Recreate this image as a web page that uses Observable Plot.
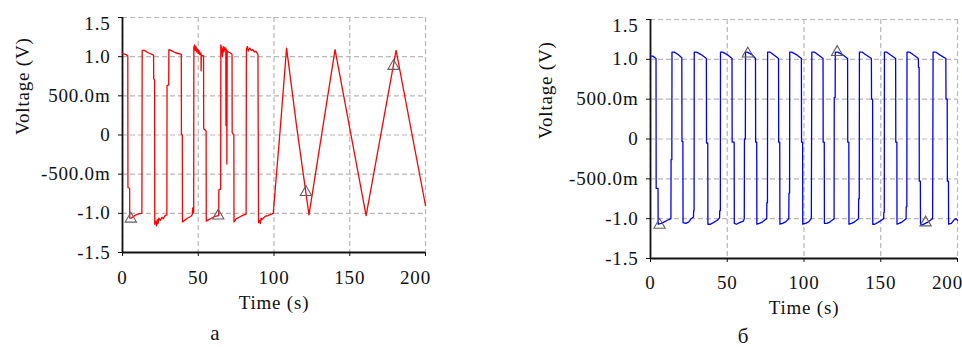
<!DOCTYPE html>
<html>
<head>
<meta charset="utf-8">
<script src="https://cdn.jsdelivr.net/npm/d3@7"></script>
<script src="https://cdn.jsdelivr.net/npm/@observablehq/plot@0.6"></script>
<style>
  html, body { margin: 0; padding: 0; background: #fff; }
  #wrap { position: relative; width: 962px; height: 347px; overflow: hidden; background: #fff; }
  .panel { position: absolute; top: 0; }
  #wrap svg, #wrap svg text { font-family: "Times New Roman", "Liberation Serif", Tinos, "DejaVu Serif", serif !important; letter-spacing: 0.8px; }
</style>
</head>
<body>
<div id="wrap">
  <div class="panel" id="pa" style="left:0px;width:440px;height:347px"></div>
  <div class="panel" id="pb" style="left:500px;width:462px;height:347px"></div>
</div>
<script>
// ---------- data ----------
const xTicks = [0, 50, 100, 150, 200];
const xTickLabels = ["0", "50", "100", "150", "200"];
const yTicks = [-1.5, -1, -0.5, 0, 0.5, 1, 1.5];
const yTickLabels = ["-1.5", "-1.0", "-500.0m", "0", "500.0m", "1.0", "1.5"];
const xLabel = "Time (s)";
const yLabel = "Voltage (V)";
const panelLabels = ["a", "б"];

// panel a (red)
const timeA = [
  0, 2.0, 3.5, 3.6, 4.7, 4.8, 6, 8, 10, 12.8,
  13.0, 14.5, 17, 20.5,
  20.6, 21.2, 21.3, 22, 22.5, 23, 23.5, 24, 25, 26, 27, 28, 29.3,
  29.4, 30.5, 30.6, 32, 35, 38.8,
  38.9, 39.5, 39.6, 41, 43, 45, 46, 46.4, 46.6, 47.0,
  47.1, 47.6, 48, 48.5, 49, 49.5, 50, 50.5, 51, 51.8, 51.9, 52.0, 53.5,
  53.6, 55.2, 55.3, 57, 59, 61, 63.5,
  63.6, 64.8, 64.9, 65.5, 66, 66.5, 67, 67.5, 68.2, 68.3, 68.5, 68.8, 68.9, 69.1, 70, 71, 72.3,
  72.4, 73.5, 73.6, 75, 77, 79, 81.6,
  81.8, 82.5, 83, 84, 85, 86, 87, 88, 89.4,
  89.5, 89.8, 90.5, 91, 91.5, 92, 94, 96, 99.5,
  104, 108.3, 115, 123.1, 140.3, 160.8, 180.6, 200
];
const voltA = [
  1.04, 1.03, 1.01, -0.67, -0.68, -1.06, -1.06, -1.03, -1.01, -1.0,
  1.08, 1.08, 1.05, 1.02,
  0.72, 0.70, -1.14, -1.1, -1.16, -1.08, -1.13, -1.06, -1.09, -1.05, -1.07, -1.03, -1.02,
  0.63, 0.64, 1.09, 1.08, 1.05, 1.03,
  0.01, 0.0, -1.11, -1.09, -1.06, -1.04, -1.02, -0.93, -1.0, -0.98,
  1.12, 1.15, 1.08, 1.13, 1.06, 1.1, 1.04, 1.08, 1.03, 1.05, 0.82, 1.02, 1.01,
  0.08, 0.05, -1.1, -1.08, -1.06, -1.04, -1.03,
  -0.7, -0.69, 1.15, 1.1, 1.0, 1.13, 1.06, 1.12, 1.08, 0.12, 1.1, 1.08, -0.37, 1.07, 1.06, 1.05, 1.03,
  0.03, 0.0, -1.11, -1.07, -1.05, -1.03, -1.01,
  1.1, 1.13, 1.07, 1.11, 1.08, 1.09, 1.06, 1.07, 1.03,
  0.5, -1.12, -1.09, -1.13, -1.06, -1.08, -1.04, -1.03, -1.0,
  0.05, 1.11, 0.1, -1.02, 1.09, -1.03, 1.08, -0.9
];
const markTimeA = [5.5, 63.2, 121.1, 178.9];
const markVoltA = [-1.07, -1.03, -0.73, 0.88];

// panel б (blue)
const timeB = [
  0, 1.5, 3.6,
  3.7, 4.9, 5.0, 7, 9, 11, 13.3,
  13.4, 13.9, 14.0, 15.5, 18, 20.4,
  20.5, 21.1, 21.2, 23, 25, 26.5, 28.0,
  28.1, 28.4, 28.5, 30, 33, 36.4,
  36.5, 37.3, 37.4, 39, 41, 43.5, 45.0,
  45.1, 45.5, 45.6, 47, 50, 53.1,
  53.2, 54.5, 54.6, 56, 58, 60.5, 61.1,
  61.2, 61.8, 61.9, 63, 66, 68.4,
  68.5, 69.2, 69.3, 71, 73, 75.7,
  75.8, 76.2, 76.3, 78, 80, 83.4,
  83.5, 84.2, 84.3, 86, 88, 90.1,
  90.2, 90.6, 90.7, 92, 95, 98.3,
  98.4, 99.1, 99.2, 101, 103, 104.7,
  104.8, 105.1, 107, 109, 112.4,
  112.5, 113.2, 113.3, 115, 117, 119.6,
  119.7, 120.3, 120.4, 122, 125, 128.4,
  128.5, 129.2, 129.3, 131, 133, 135.5,
  135.6, 136.0, 136.1, 138, 140, 143.9,
  144.0, 144.7, 144.8, 146, 148, 151.9,
  152.0, 152.3, 152.4, 154, 156, 159.7,
  159.8, 160.5, 160.6, 162, 164, 166.5,
  166.6, 167.0, 167.1, 169, 171, 174.5,
  174.6, 175.0, 175.1, 175.8, 175.9, 177, 179, 181, 183.7,
  183.8, 184.1, 186, 189, 192.4,
  192.5, 193.3, 193.4, 194.1, 194.2, 196, 197.5, 199, 200
];
const voltB = [
  1.04, 1.04, 1.01,
  -0.62, -0.62, -1.07, -1.06, -1.04, -1.02, -1.0,
  -0.26, -0.26, 1.09, 1.09, 1.06, 1.02,
  -0.03, -0.03, -1.05, -1.06, -1.04, -1.0, -0.98,
  -0.9, -0.9, 1.09, 1.09, 1.06, 1.01,
  -0.05, -0.05, -1.07, -1.07, -1.05, -1.02, -0.99,
  -0.9, -0.9, 1.09, 1.09, 1.06, 1.01,
  -0.04, -0.04, -1.06, -1.07, -1.05, -1.03, -1.0,
  0.0, 0.0, 1.09, 1.09, 1.06, 1.01,
  -0.04, -0.04, -1.07, -1.06, -1.04, -1.0,
  -0.8, -0.8, 1.09, 1.09, 1.06, 1.01,
  -0.04, -0.04, -1.07, -1.06, -1.04, -1.0,
  -0.68, -0.68, 1.09, 1.09, 1.06, 1.01,
  -0.04, -0.04, -1.07, -1.06, -1.04, -1.0,
  -0.95, 1.09, 1.09, 1.06, 1.01,
  -0.04, -0.04, -1.06, -1.06, -1.04, -1.0,
  0.52, 0.52, 1.09, 1.09, 1.06, 1.01,
  -0.04, -0.04, -1.07, -1.06, -1.04, -1.0,
  -0.75, -0.75, 1.09, 1.09, 1.06, 1.01,
  0.5, 0.5, -1.07, -1.07, -1.05, -1.0,
  -0.92, -0.92, 1.09, 1.09, 1.06, 1.01,
  -0.04, -0.04, -1.07, -1.06, -1.04, -1.0,
  -0.85, -0.85, 1.09, 1.09, 1.06, 1.01,
  0.9, 0.9, -0.53, -0.53, -1.07, -1.08, -1.06, -1.04, -1.0,
  -0.95, 1.09, 1.09, 1.05, 1.01,
  0.5, 0.5, -0.53, -0.53, -1.07, -1.06, -1.02, -1.0, -1.02
];
const markTimeB = [5.9, 63.4, 121.6, 179.2];
const markVoltB = [-1.08, 1.07, 1.09, -1.05];

// ---------- drawing ----------
const FONT = "'Times New Roman', 'Liberation Serif', Tinos, 'DejaVu Serif', serif";
const yFmt = d => yTickLabels[yTicks.indexOf(d)];
const xFmt = d => xTickLabels[xTicks.indexOf(d)];

function panel({width, height, mL, mR, mT, mB, time, volt, mTime, mVolt, color, xPad, yLabDx, xLabDy}) {
  const pts = time.map((t, i) => ({t, v: volt[i]}));
  const marks = mTime.map((t, i) => ({t, v: mVolt[i]}));
  const yMain = yTicks.filter(d => d !== 1.5);
  const xMain = xTicks.filter(d => d !== 200);
  const txt = {fontSize: 19, fontFamily: FONT};
  return Plot.plot({
    width, height,
    marginLeft: mL, marginRight: mR, marginTop: mT, marginBottom: mB,
    style: {fontFamily: FONT, fontSize: "19px", color: "#111", background: "#fff", overflow: "visible"},
    x: {domain: [0, 200]},
    y: {domain: [-1.5, 1.5]},
    marks: [
      Plot.gridX(xTicks, {stroke: "#b8b8b8", strokeOpacity: 1, strokeWidth: 1.2, strokeDasharray: "5,3"}),
      Plot.gridY(yTicks, {stroke: "#b8b8b8", strokeOpacity: 1, strokeWidth: 1.2, strokeDasharray: "5,3"}),
      Plot.axisY(yMain, {tickSize: 4, tickPadding: 8, tickFormat: yFmt, label: null, ...txt}),
      Plot.axisY([1.5], {tickSize: 4, tickPadding: 8, tickFormat: () => "", label: null}),
      Plot.axisY([1.5], {tickSize: 0, tickPadding: 12, tickFormat: yFmt, label: null, dy: 6, ...txt}),
      Plot.axisX(xMain, {tickSize: 4, tickPadding: xPad, tickFormat: xFmt, label: null, ...txt}),
      Plot.axisX([200], {tickSize: 4, tickPadding: xPad, tickFormat: () => "", label: null}),
      Plot.axisX([200], {tickSize: 0, tickPadding: xPad + 4, tickFormat: xFmt, label: null, dx: -10, ...txt}),
      Plot.ruleX([0], {stroke: "#111", strokeWidth: 1.8}),
      Plot.ruleY([-1.5], {stroke: "#111", strokeWidth: 1.8}),
      Plot.line(pts, {x: "t", y: "v", stroke: color, strokeWidth: 1.3, curve: "linear"}),
      Plot.dot(marks, {x: "t", y: "v", symbol: "triangle", r: 4.2, stroke: "#606060", strokeWidth: 1.1, fill: "none"}),
      Plot.text([yLabel], {frameAnchor: "left", dx: yLabDx, rotate: -90, fill: "#111", ...txt}),
      Plot.text([xLabel], {frameAnchor: "bottom", dy: xLabDy, fill: "#111", ...txt})
    ]
  });
}

const a = panel({width: 440, height: 347, mL: 122, mR: 15, mT: 17, mB: 95,
  time: timeA, volt: voltA, mTime: markTimeA, mVolt: markVoltA, color: "#ff0000",
  xPad: 14, yLabDx: -100, xLabDy: 56});
document.getElementById("pa").appendChild(a);

const b = panel({width: 462, height: 347, mL: 150, mR: 5, mT: 19, mB: 89,
  time: timeB, volt: voltB, mTime: markTimeB, mVolt: markVoltB, color: "#0000ff",
  xPad: 13, yLabDx: -105, xLabDy: 55});
document.getElementById("pb").appendChild(b);

// panel letters
function letter(txt, cx, baseline) {
  const d = document.createElement("div");
  d.textContent = txt;
  d.style.cssText = `position:absolute;left:${cx - 30}px;width:60px;text-align:center;top:${baseline - 17}px;font-size:21px;font-family:${FONT};line-height:21px;color:#111;`;
  document.getElementById("wrap").appendChild(d);
}
letter(panelLabels[0], 215, 340);
letter(panelLabels[1], 743, 343);
</script>
</body>
</html>
